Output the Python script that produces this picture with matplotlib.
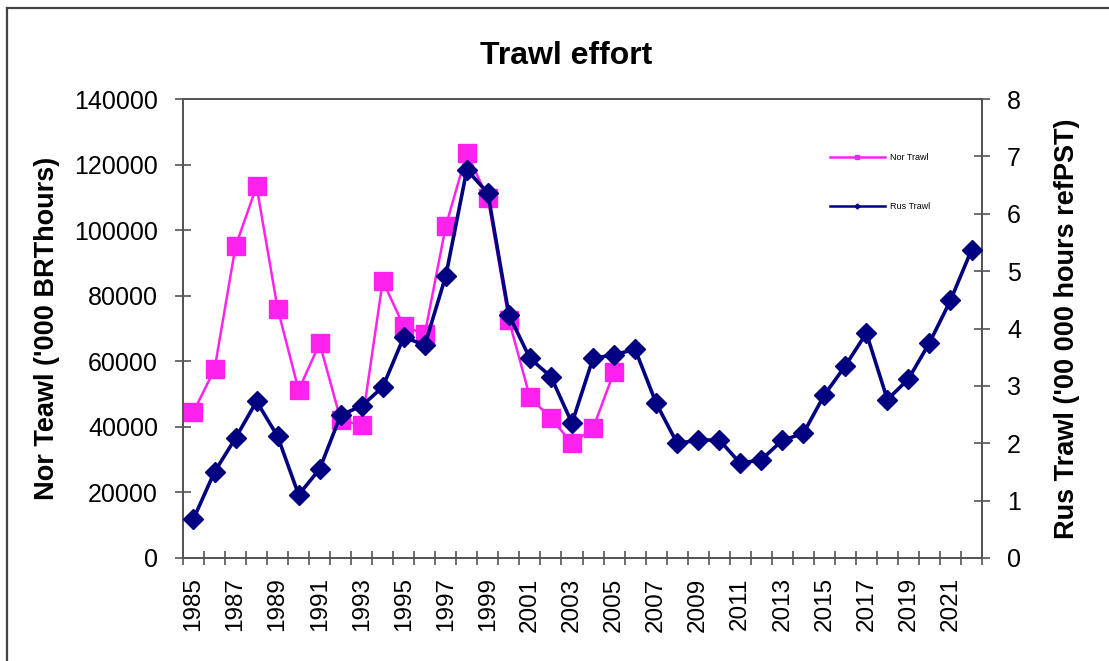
import numpy as np
import matplotlib
matplotlib.use("Agg")
import matplotlib.pyplot as plt
from matplotlib.lines import Line2D

plt.rcParams['font.family'] = ['Liberation Sans', 'DejaVu Sans']

years = list(range(1985, 2023))

# Norwegian trawl effort ('000 BRT hours), 1985-2005
nor_trawl = [44600, 57500, 95100, 113400, 76100, 51200, 65500, 42100, 40500,
             84500, 70700, 68300, 101300, 123600, 109700, 72600, 49000, 42600,
             35000, 39500, 56800]

# Russian trawl effort ('00 000 hours refPST), 1985-2022
rus_trawl = [0.68, 1.50, 2.09, 2.73, 2.12, 1.10, 1.55, 2.49, 2.65, 2.98,
             3.85, 3.71, 4.92, 6.77, 6.36, 4.24, 3.48, 3.16, 2.35, 3.48,
             3.54, 3.64, 2.70, 2.00, 2.05, 2.06, 1.65, 1.71, 2.05, 2.17,
             2.84, 3.35, 3.92, 2.76, 3.12, 3.75, 4.49, 5.37]

pink = "#FF22EE"
navy = "#000080"
axcol = "#555555"

fig = plt.figure(figsize=(11.09, 6.61), dpi=100)
ax = fig.add_axes([0.165, 0.156, 0.7205, 0.694])
ax2 = ax.twinx()

x = np.arange(len(years))
ax.plot(x[:len(nor_trawl)], nor_trawl, color=pink, lw=1.8, marker="s",
        markersize=12.5, markeredgecolor=pink, zorder=3)
ax2.plot(x, rus_trawl, color=navy, lw=2.6, marker="D", markersize=10,
         markeredgecolor=navy, zorder=4)

ax.set_xlim(-0.5, len(years) - 0.5)
ax.set_ylim(0, 140000)
ax2.set_ylim(0, 8)
ax.set_yticks(range(0, 140001, 20000))
ax2.set_yticks(range(0, 9))

# category ticks between years, labels every other year
ax.set_xticks(np.arange(len(years) + 1) - 0.5)
ax.set_xticklabels([])
ax.set_xticks(x[::2], minor=True)
ax.set_xticklabels([str(y) for y in years[::2]], minor=True, rotation=90,
                   fontsize=17.5)
ax.tick_params(axis="x", which="minor", length=0, pad=14)
ax.tick_params(axis="x", which="major", direction="inout", length=10,
               color=axcol, width=1.2)
ax.tick_params(axis="y", direction="inout", length=12, color=axcol,
               width=1.2, labelsize=18, pad=12)
ax2.tick_params(axis="y", direction="inout", length=12, color=axcol,
                width=1.2, labelsize=18, pad=12)

for a in (ax, ax2):
    for s in a.spines.values():
        s.set_color(axcol)
        s.set_linewidth(1.4)

fig.text(566 / 1109, 1 - 56 / 661, "Trawl effort", fontsize=23,
         fontweight="bold", ha="center", va="center")
ax.set_ylabel("Nor Teawl ('000 BRThours)", fontsize=19.5, fontweight="bold",
              labelpad=10)
ax2.set_ylabel("Rus Trawl ('00 000 hours refPST)", fontsize=19.5,
               fontweight="bold", labelpad=24)

handles = [Line2D([], [], color=pink, lw=1.8, marker="s", markersize=2.5),
           Line2D([], [], color=navy, lw=1.8, marker="D", markersize=2.5)]
ax2.legend(handles, ["Nor Trawl", "Rus Trawl"], loc="upper left",
           bbox_to_anchor=(0.8, 0.9), frameon=False, fontsize=6.5,
           labelspacing=4.4, handlelength=6.0, handletextpad=0.6)

# outer chart frame (top and left edges visible)
fig.add_artist(Line2D([0.0065, 1.0], [1 - 8 / 661, 1 - 8 / 661],
                      transform=fig.transFigure, color="#444444", lw=1.6))
fig.add_artist(Line2D([0.0065, 0.0065], [0.0, 1 - 8 / 661],
                      transform=fig.transFigure, color="#444444", lw=1.6))

fig.savefig("out.png", dpi=100)
